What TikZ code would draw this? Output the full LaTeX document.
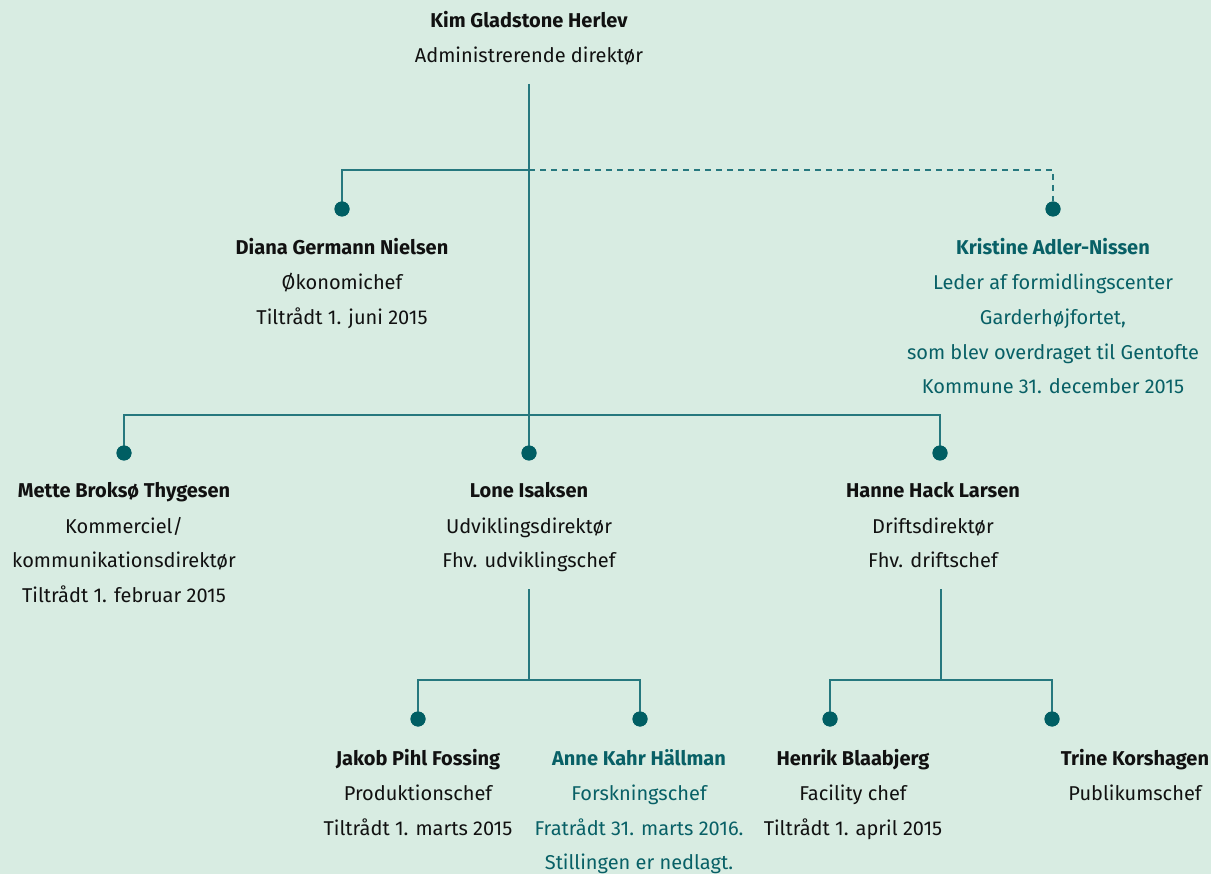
\documentclass[tikz,border=0pt]{standalone}
\usepackage{fontspec}
\setmainfont{Fira Sans}
\definecolor{bg}{RGB}{216,236,226}
\definecolor{linec}{RGB}{38,120,126}
\definecolor{dotc}{RGB}{0,94,99}
\definecolor{teal}{RGB}{8,96,102}
\definecolor{ink}{RGB}{17,17,17}
\tikzset{
  conn/.style={draw=linec,line width=1.6pt},
  dconn/.style={draw=linec,line width=1.6pt,dash pattern=on 6pt off 5pt},
  dotn/.style={circle,fill=dotc,inner sep=0pt,minimum size=15pt},
  txt/.style={anchor=base,inner sep=0pt,text=ink,font=\fontsize{20}{22}\selectfont},
  nm/.style={txt,font=\fontsize{20}{22}\selectfont\bfseries},
  ttxt/.style={txt,text=teal},
  tnm/.style={nm,text=teal}
}
\begin{document}
\begin{tikzpicture}[x=1pt,y=-1pt]
\fill[bg] (0,0) rectangle (1211,874);
\useasboundingbox (0,0) rectangle (1211,874);
% top
\node[nm] (kim1) at (529,28) {Kim Gladstone Herlev};
\node[txt] (kim2) at (529,63) {Administrerende direktør};
\coordinate (kimb) at (529,84);
\coordinate (j1) at (529,170);
\coordinate (j2) at (529,415);
% dots tier 2
\node[dotn] (ddot) at (342,209) {};
\node[dotn] (kdot) at (1053,209) {};
\coordinate (dj) at (342,170);
\coordinate (kj) at (1053,170);
% Diana
\node[nm] (d1) at (342,255) {Diana Germann Nielsen};
\node[txt] (d2) at (342,290) {Økonomichef};
\node[txt] (d3) at (342,325) {Tiltrådt 1. juni 2015};
% Kristine
\node[tnm] (k1) at (1053,255) {Kristine Adler-Nissen};
\node[ttxt] (k2) at (1053,290) {Leder af formidlingscenter};
\node[ttxt] (k3) at (1053,325) {Garderhøjfortet,};
\node[ttxt] (k4) at (1053,360) {som blev overdraget til Gentofte};
\node[ttxt] (k5) at (1053,394) {Kommune 31. december 2015};
% tier 3 dots
\node[dotn] (mdot) at (124,453) {};
\node[dotn] (ldot) at (529,453) {};
\node[dotn] (hdot) at (940,453) {};
\coordinate (mj) at (124,415);
\coordinate (hj) at (940,415);
% Mette
\node[nm] (m1) at (124,498) {Mette Broksø Thygesen};
\node[txt] (m2) at (124,533) {Kommerciel/};
\node[txt] (m3) at (124,567) {kommunikationsdirektør};
\node[txt] (m4) at (124,602) {Tiltrådt 1. februar 2015};
% Lone
\node[nm] (l1) at (529,498) {Lone Isaksen};
\node[txt] (l2) at (529,533) {Udviklingsdirektør};
\node[txt] (l3) at (529,567) {Fhv. udviklingschef};
% Hanne
\node[nm] (h1) at (933,498) {Hanne Hack Larsen};
\node[txt] (h2) at (933,533) {Driftsdirektør};
\node[txt] (h3) at (933,567) {Fhv. driftschef};
% tier 4
\coordinate (lb) at (529,589);
\coordinate (hb) at (941,589);
\coordinate (lj) at (529,680);
\coordinate (hj2) at (941,680);
\coordinate (jj) at (418,680);
\coordinate (aj) at (640,680);
\coordinate (hej) at (830,680);
\coordinate (tj) at (1052,680);
\node[dotn] (jdot) at (418,719) {};
\node[dotn] (adot) at (640,719) {};
\node[dotn] (hedot) at (830,719) {};
\node[dotn] (tdot) at (1052,719) {};
% Jakob
\node[nm] (ja1) at (418,765) {Jakob Pihl Fossing};
\node[txt] (ja2) at (418,800) {Produktionschef};
\node[txt] (ja3) at (418,835) {Tiltrådt 1. marts 2015};
% Anne
\node[tnm] (a1) at (639,765) {Anne Kahr Hällman};
\node[ttxt] (a2) at (639,800) {Forskningschef};
\node[ttxt] (a3) at (639,835) {Fratrådt 31. marts 2016.};
\node[ttxt] (a4) at (639,869) {Stillingen er nedlagt.};
% Henrik
\node[nm] (he1) at (853,765) {Henrik Blaabjerg};
\node[txt] (he2) at (853,800) {Facility chef};
\node[txt] (he3) at (853,835) {Tiltrådt 1. april 2015};
% Trine
\node[nm] (t1) at (1135,765) {Trine Korshagen};
\node[txt] (t2) at (1135,800) {Publikumschef};
% connectors
\draw[conn] (kimb) -- (ldot.center);
\draw[conn] (j1) -- (dj) -- (ddot.center);
\draw[dconn] (j1) -- (kj) -- (kdot.north);
\draw[conn] (mdot.center) -- (mj) -- (hj) -- (hdot.center);
\draw[conn] (lb) -- (lj);
\draw[conn] (jdot.center) -- (jj) -- (aj) -- (adot.center);
\draw[conn] (hb) -- (hj2);
\draw[conn] (hedot.center) -- (hej) -- (tj) -- (tdot.center);
% redraw dots on top
\foreach \n in {ddot,kdot,mdot,ldot,hdot,jdot,adot,hedot,tdot}
  \fill[dotc] (\n.center) circle (7.5pt);
\end{tikzpicture}
\end{document}
